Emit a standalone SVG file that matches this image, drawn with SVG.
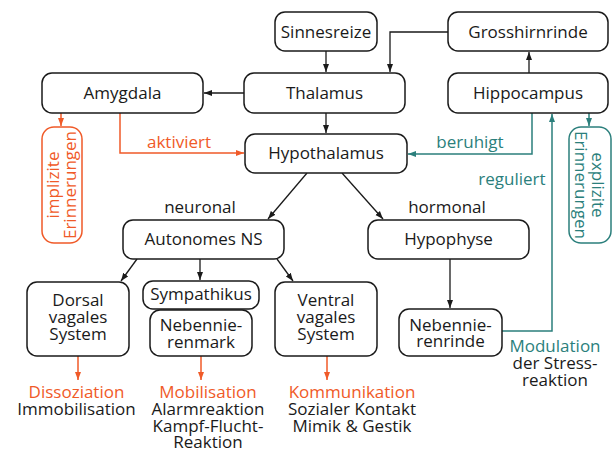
<svg xmlns="http://www.w3.org/2000/svg" width="613" height="452" viewBox="0 0 613 452">
<defs>
<marker id="ab" viewBox="0 0 8 8" refX="8" refY="4" markerWidth="8" markerHeight="8" markerUnits="userSpaceOnUse" orient="auto"><path d="M0,1 L8,4 L0,7 z" fill="#1a1a1a"/></marker>
<marker id="ao" viewBox="0 0 8 8" refX="8" refY="4" markerWidth="8" markerHeight="8" markerUnits="userSpaceOnUse" orient="auto"><path d="M0,1 L8,4 L0,7 z" fill="#f05a28"/></marker>
<marker id="at" viewBox="0 0 8 8" refX="8" refY="4" markerWidth="8" markerHeight="8" markerUnits="userSpaceOnUse" orient="auto"><path d="M0,1 L8,4 L0,7 z" fill="#2b7f7c"/></marker>
</defs>
<style>
.n{fill:#fff;stroke:#1a1a1a;stroke-width:1.5}
.no{fill:#fff;stroke:#f05a28;stroke-width:1.5}
.nt{fill:#fff;stroke:#2b7f7c;stroke-width:1.5}
text{font-family:"Open Sans","Noto Sans","Liberation Sans",sans-serif;font-size:17px;text-anchor:middle;fill:#1a1a1a}
.o{fill:#f05a28}
.t{fill:#2b7f7c}
.c{fill:none;stroke:#1a1a1a;stroke-width:1.3}
.co{fill:none;stroke:#f05a28;stroke-width:1.5}
.ct{fill:none;stroke:#2b7f7c;stroke-width:1.5}
</style>
<rect width="613" height="452" fill="#fff"/>
<g id="connectors">
<path class="c" d="M326,51 V72" marker-end="url(#ab)"/>
<path class="c" d="M448,32 H390 V72" marker-end="url(#ab)"/>
<path class="c" d="M529,73 V52" marker-end="url(#ab)"/>
<path class="c" d="M244,93 H204" marker-end="url(#ab)"/>
<path class="c" d="M326,113 V133" marker-end="url(#ab)"/>
<path class="co" d="M61,113 V126" marker-end="url(#ao)"/>
<path class="co" d="M120,113 V153 H244" marker-end="url(#ao)"/>
<path class="ct" d="M532,113 V154 H408" marker-end="url(#at)"/>
<path class="ct" d="M589,113 V126" marker-end="url(#at)"/>
<path class="ct" d="M502,331 H552 V114" marker-end="url(#at)"/>
<path class="c" d="M307,173 L268,219" marker-end="url(#ab)"/>
<path class="c" d="M342,173 L383,219" marker-end="url(#ab)"/>
<path class="c" d="M137,259 L121,281" marker-end="url(#ab)"/>
<path class="c" d="M200,259 V280" marker-end="url(#ab)"/>
<path class="c" d="M277,259 L293,281" marker-end="url(#ab)"/>
<path class="c" d="M450,259 V308" marker-end="url(#ab)"/>
<path class="co" d="M78,356 V380" marker-end="url(#ao)"/>
<path class="co" d="M201,356 V380" marker-end="url(#ao)"/>
<path class="co" d="M327,356 V380" marker-end="url(#ao)"/>
</g>
<g id="labels">
<text class="o" x="179" y="148">aktiviert</text>
<text class="t" x="470" y="148">beruhigt</text>
<text class="t" x="512" y="185">reguliert</text>
<text x="200" y="213">neuronal</text>
<text x="447" y="213">hormonal</text>
<text class="t" x="555" y="352">Modulation</text>
<text x="555" y="369">der Stress-</text>
<text x="555" y="386">reaktion</text>
</g>
<g id="sinnesreize"><rect class="n" x="275" y="12" width="102" height="39" rx="10"/><text x="326" y="37.5">Sinnesreize</text></g>
<g id="grosshirnrinde"><rect class="n" x="448" y="12" width="160" height="39" rx="10"/><text x="528" y="37.5">Grosshirnrinde</text></g>
<g id="amygdala"><rect class="n" x="42" y="73" width="161" height="40" rx="10"/><text x="122.5" y="99">Amygdala</text></g>
<g id="thalamus"><rect class="n" x="244" y="73" width="161" height="40" rx="10"/><text x="324.5" y="99">Thalamus</text></g>
<g id="hippocampus"><rect class="n" x="448" y="73" width="160" height="40" rx="10"/><text x="528" y="99">Hippocampus</text></g>
<g id="hypothalamus"><rect class="n" x="245" y="134" width="162" height="39" rx="10"/><text x="326" y="159">Hypothalamus</text></g>
<g id="implizite"><rect class="no" x="42" y="127" width="40" height="116" rx="12"/><text class="o" transform="translate(62,185) rotate(-90)"><tspan x="0" y="-3">implizite</tspan><tspan x="0" y="14">Erinnerungen</tspan></text></g>
<g id="explizite"><rect class="nt" x="569" y="127" width="42" height="116" rx="12"/><text class="t" transform="translate(590,185) rotate(90)"><tspan x="0" y="-2">explizite</tspan><tspan x="0" y="15">Erinnerungen</tspan></text></g>
<g id="autonomes"><rect class="n" x="123" y="220" width="161" height="39" rx="10"/><text x="203.5" y="245">Autonomes NS</text></g>
<g id="hypophyse"><rect class="n" x="368" y="220" width="161" height="39" rx="10"/><text x="448.5" y="245">Hypophyse</text></g>
<g id="dorsal"><rect class="n" x="27" y="282" width="102" height="74" rx="10"/><text x="78" y="306">Dorsal</text><text x="78" y="323">vagales</text><text x="78" y="340">System</text></g>
<g id="sympathikus"><rect class="n" x="143" y="281" width="116" height="28" rx="10"/><text x="201" y="300">Sympathikus</text></g>
<g id="nebennierenmark"><rect class="n" x="150" y="310" width="102" height="46" rx="10"/><text x="201" y="331">Nebennie-</text><text x="201" y="348">renmark</text></g>
<g id="ventral"><rect class="n" x="275" y="282" width="102" height="74" rx="10"/><text x="326" y="306">Ventral</text><text x="326" y="323">vagales</text><text x="326" y="340">System</text></g>
<g id="nebennierenrinde"><rect class="n" x="399" y="309" width="103" height="47" rx="10"/><text x="450.5" y="331">Nebennie-</text><text x="450.5" y="347">renrinde</text></g>
<g id="outcomes">
<text class="o" x="76.5" y="398">Dissoziation</text>
<text x="76.5" y="415">Immobilisation</text>
<text class="o" x="208" y="398">Mobilisation</text>
<text x="208" y="415">Alarmreaktion</text>
<text x="208" y="432">Kampf-Flucht-</text>
<text x="208" y="448">Reaktion</text>
<text class="o" x="352" y="398">Kommunikation</text>
<text x="352" y="415">Sozialer Kontakt</text>
<text x="352" y="432">Mimik &amp; Gestik</text>
</g>
</svg>
